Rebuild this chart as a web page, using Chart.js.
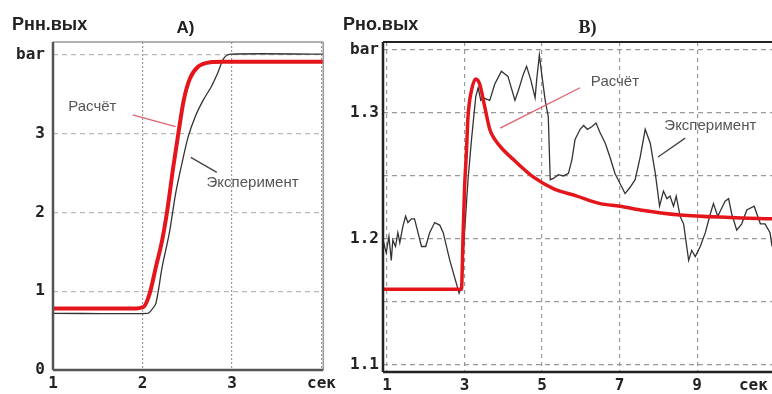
<!DOCTYPE html>
<html>
<head>
<meta charset="utf-8">
<script src="https://cdn.jsdelivr.net/npm/chart.js@4.4.1/dist/chart.umd.min.js"></script>
<style>
  html, body { margin: 0; padding: 0; background: #fff; }
  body { width: 772px; height: 394px; position: relative; overflow: hidden; }
  canvas { position: absolute; top: 0; }
  #chartA { left: 0; }
  #chartB { left: 340px; }
</style>
</head>
<body>
<canvas id="chartA" width="340" height="394"></canvas>
<canvas id="chartB" width="432" height="394"></canvas>
<script>
// Panel A - Рнн.вых
const leftCalcTime = [1, 1.9, 2.01, 2.08, 2.15, 2.22, 2.28, 2.34, 2.40, 2.46, 2.53, 2.62, 2.77, 2.9, 4.02];
const leftCalc     = [0.78, 0.78, 0.80, 0.97, 1.31, 1.65, 2.05, 2.55, 3.0, 3.42, 3.70, 3.85, 3.91, 3.915, 3.915];
const leftExpTime  = [1, 2.06, 2.10, 2.15, 2.22, 2.30, 2.37, 2.44, 2.51, 2.59, 2.68, 2.77, 2.84, 2.91, 2.99, 4.02];
const leftExp      = [0.72, 0.72, 0.76, 0.85, 1.31, 1.74, 2.24, 2.62, 2.96, 3.22, 3.43, 3.60, 3.77, 3.96, 4.01, 4.01];
const leftXTicks   = [1, 2, 3, 4];
const leftXLabels  = ['1', '2', '3', 'сек'];
const leftYTicks   = [0, 1, 2, 3, 4];
const leftYLabels  = ['0', '1', '2', '3', 'bar'];

// Panel B - Рно.вых
const rightCalcTime = [0.9, 2.92, 2.96, 3.0, 3.05, 3.09, 3.18, 3.29, 3.39, 3.52, 3.65, 3.78, 3.99, 4.26, 4.78, 5.29, 5.9, 6.5, 7.01, 7.53, 8.56, 9.85, 10.93];
const rightCalc     = [1.16, 1.16, 1.2, 1.24, 1.27, 1.297, 1.318, 1.327, 1.323, 1.305, 1.287, 1.279, 1.271, 1.263, 1.249, 1.24, 1.234, 1.228, 1.226, 1.223, 1.219, 1.217, 1.216];
const rightExpTime = [0.90, 0.98, 1.05, 1.11, 1.15, 1.22, 1.28, 1.33, 1.41, 1.48, 1.54, 1.63, 1.71, 1.80, 1.89, 2.00, 2.10, 2.23, 2.36, 2.45,
  2.62, 2.86, 2.92, 3.00, 3.09, 3.18, 3.29, 3.35, 3.42, 3.48, 3.65, 3.78, 3.95, 4.12, 4.30, 4.39, 4.52, 4.60, 4.71, 4.82,
  4.86, 4.93, 4.99, 5.08, 5.16, 5.21, 5.29, 5.42, 5.55, 5.68, 5.77, 5.85, 5.98, 6.07, 6.17, 6.28, 6.39, 6.50, 6.63, 6.75,
  6.88, 7.01, 7.14, 7.27, 7.40, 7.53, 7.66, 7.79, 7.92, 8.03, 8.13, 8.22, 8.30, 8.39, 8.46, 8.56, 8.65, 8.78, 8.86, 8.95,
  9.08, 9.21, 9.34, 9.42, 9.53, 9.61, 9.72, 9.81, 9.89, 10.02, 10.15, 10.28, 10.47, 10.63, 10.75, 10.88, 10.93];
const rightExp = [1.199, 1.189, 1.202, 1.183, 1.199, 1.194, 1.205, 1.197, 1.21, 1.218, 1.213, 1.216, 1.216, 1.205, 1.194, 1.194, 1.205, 1.213, 1.211, 1.205,
  1.183, 1.157, 1.162, 1.205, 1.247, 1.279, 1.313, 1.32, 1.31, 1.312, 1.31, 1.323, 1.333, 1.329, 1.31, 1.318, 1.331, 1.337, 1.326, 1.312,
  1.326, 1.346, 1.331, 1.31, 1.297, 1.247, 1.248, 1.251, 1.25, 1.252, 1.263, 1.279, 1.287, 1.29, 1.287, 1.289, 1.292, 1.284, 1.276, 1.265,
  1.252, 1.244, 1.236, 1.241, 1.247, 1.265, 1.287, 1.276, 1.252, 1.226, 1.238, 1.232, 1.234, 1.226, 1.234, 1.218, 1.212, 1.183, 1.191, 1.186,
  1.194, 1.205, 1.22, 1.228, 1.218, 1.223, 1.23, 1.232, 1.22, 1.207, 1.212, 1.223, 1.226, 1.212, 1.212, 1.205, 1.194];
const rightXTicks  = [1, 3, 5, 7, 9, 10.45];
const rightXLabels = ['1', '3', '5', '7', '9', 'сек'];
const rightYTicks  = [1.1, 1.15, 1.2, 1.25, 1.3, 1.35];
const rightYLabels = ['1.1', '', '1.2', '', '1.3', 'bar'];

const RED = '#e4161c';
const BLACK = '#333';
const tickFont = { family: 'DejaVu Sans Mono', size: 16, weight: 'bold' };

function pts(xs, ys) {
    return xs.map((x, i) => ({ x: x, y: ys[i] }));
}

function labelFor(ticks, labels) {
    return function(value) {
        const i = ticks.findIndex(t => Math.abs(t - value) < 1e-6);
        return i >= 0 ? labels[i] : '';
    };
}

// draws frame, titles and the little callouts
const decorPlugin = {
    id: 'decor',
    afterDraw(chart, args, o) {
        const ctx = chart.ctx;
        const a = chart.chartArea;
        const xs = chart.scales.x, ys = chart.scales.y;
        ctx.save();
        // frame
        o.frame.forEach(f => {
            ctx.strokeStyle = f.color;
            ctx.lineWidth = f.width;
            ctx.beginPath();
            if (f.side === 'left') { ctx.moveTo(a.left, a.top); ctx.lineTo(a.left, a.bottom); }
            if (f.side === 'right') { ctx.moveTo(a.right, a.top); ctx.lineTo(a.right, a.bottom); }
            if (f.side === 'top') { ctx.moveTo(a.left, a.top); ctx.lineTo(a.right, a.top); }
            if (f.side === 'bottom') { ctx.moveTo(a.left, a.bottom); ctx.lineTo(a.right, a.bottom); }
            ctx.stroke();
        });
        // axis name + panel title
        ctx.fillStyle = '#222';
        ctx.textBaseline = 'middle';
        ctx.textAlign = 'left';
        ctx.font = 'bold 18px "Liberation Sans"';
        ctx.fillText(o.yName, o.yNameX, 25);
        ctx.textAlign = 'center';
        ctx.font = o.titleFont;
        ctx.fillText(o.title, xs.getPixelForValue(o.titleAt), 28);
        // callouts
        o.notes.forEach(n => {
            ctx.strokeStyle = n.lineColor;
            ctx.lineWidth = 1.3;
            ctx.beginPath();
            ctx.moveTo(xs.getPixelForValue(n.line[0]), ys.getPixelForValue(n.line[1]));
            ctx.lineTo(xs.getPixelForValue(n.line[2]), ys.getPixelForValue(n.line[3]));
            ctx.stroke();
            ctx.fillStyle = '#555';
            ctx.font = '15px "Liberation Sans"';
            ctx.textAlign = 'center';
            ctx.fillText(n.text, xs.getPixelForValue(n.at[0]), ys.getPixelForValue(n.at[1]));
        });
        ctx.restore();
    }
};

function makePanel(id, p) {
    new Chart(document.getElementById(id), {
        type: 'line',
        data: {
            datasets: [
                { data: pts(p.calcX, p.calcY), borderColor: RED, borderWidth: p.redWidth, pointRadius: 0, cubicInterpolationMode: 'monotone', order: 1 },
                { data: pts(p.expX, p.expY), borderColor: BLACK, borderWidth: 1.3, pointRadius: 0, tension: p.expTension, order: 2 }
            ]
        },
        options: {
            responsive: false,
            animation: false,
            devicePixelRatio: 1,
            layout: { padding: { top: 42, right: p.padRight, left: 0, bottom: 0 } },
            plugins: {
                legend: { display: false },
                tooltip: { enabled: false },
                decor: p.decor
            },
            scales: {
                x: {
                    type: 'linear',
                    min: p.xMin, max: p.xMax,
                    afterBuildTicks: s => { s.ticks = p.xTicks.map(v => ({ value: v })); },
                    afterFit: s => { s.height = p.xAxisH; },
                    ticks: { callback: labelFor(p.xTicks, p.xLabels), font: tickFont, color: '#222', padding: 4, maxRotation: 0, autoSkip: false },
                    grid: {
                        color: ctx => (ctx.tick && ctx.tick.value > p.xGridMax) ? 'rgba(0,0,0,0)' : p.vGridColor,
                        lineWidth: 1.2, drawTicks: false
                    },
                    border: { display: false, dash: p.vDash }
                },
                y: {
                    min: p.yMin, max: p.yMax,
                    afterBuildTicks: s => { s.ticks = p.yTicks.map(v => ({ value: v })); },
                    afterFit: s => { s.width = p.yAxisW; },
                    ticks: { callback: labelFor(p.yTicks, p.yLabels), font: tickFont, color: '#222', padding: p.yPad, autoSkip: false },
                    grid: { color: p.hGridColor, lineWidth: 1.2, drawTicks: false },
                    border: { display: false, dash: [5, 4] }
                }
            }
        },
        plugins: [decorPlugin]
    });
}

makePanel('chartA', {
    calcX: leftCalcTime, calcY: leftCalc, expX: leftExpTime, expY: leftExp,
    redWidth: 4, expTension: 0.3,
    xMin: 1, xMax: 4.02, yMin: 0, yMax: 4.165,
    xTicks: leftXTicks, xLabels: leftXLabels, yTicks: leftYTicks, yLabels: leftYLabels,
    xGridMax: 4.5, padRight: 8, xAxisH: 24, yAxisW: 53, yPad: 8,
    vGridColor: '#999', vDash: [2, 2], hGridColor: '#bbb',
    decor: {
        frame: [
            { side: 'top', color: '#999', width: 1.5 },
            { side: 'right', color: '#999', width: 1.5 },
            { side: 'left', color: '#555', width: 2.5 },
            { side: 'bottom', color: '#555', width: 2.5 }
        ],
        yName: 'Рнн.вых', yNameX: 12,
        title: 'A)', titleAt: 2.48, titleFont: 'bold 17px "Liberation Sans"',
        notes: [
            { text: 'Расчёт', at: [1.44, 3.34], line: [1.89, 3.24, 2.37, 3.09], lineColor: '#e06070' },
            { text: 'Эксперимент', at: [3.23, 2.37], line: [2.54, 2.70, 2.83, 2.51], lineColor: '#444' }
        ]
    }
});

makePanel('chartB', {
    calcX: rightCalcTime, calcY: rightCalc, expX: rightExpTime, expY: rightExp,
    redWidth: 3.5, expTension: 0,
    xMin: 0.897, xMax: 10.93, yMin: 1.0944, yMax: 1.3563,
    xTicks: rightXTicks, xLabels: rightXLabels, yTicks: rightYTicks, yLabels: rightYLabels,
    xGridMax: 10, padRight: 0, xAxisH: 22, yAxisW: 43, yPad: 4,
    vGridColor: '#999', vDash: [4, 4], hGridColor: '#999',
    decor: {
        frame: [
            { side: 'top', color: '#222', width: 2 },
            { side: 'left', color: '#222', width: 2.5 },
            { side: 'bottom', color: '#222', width: 2.5 }
        ],
        yName: 'Рно.вых', yNameX: 3,
        title: 'B)', titleAt: 6.17, titleFont: 'bold 18px "Liberation Serif"',
        notes: [
            { text: 'Расчёт', at: [6.88, 1.3246], line: [3.92, 1.288, 5.98, 1.32], lineColor: '#e06070' },
            { text: 'Эксперимент', at: [9.34, 1.290], line: [7.99, 1.265, 8.69, 1.28], lineColor: '#444' }
        ]
    }
});
</script>
</body>
</html>
